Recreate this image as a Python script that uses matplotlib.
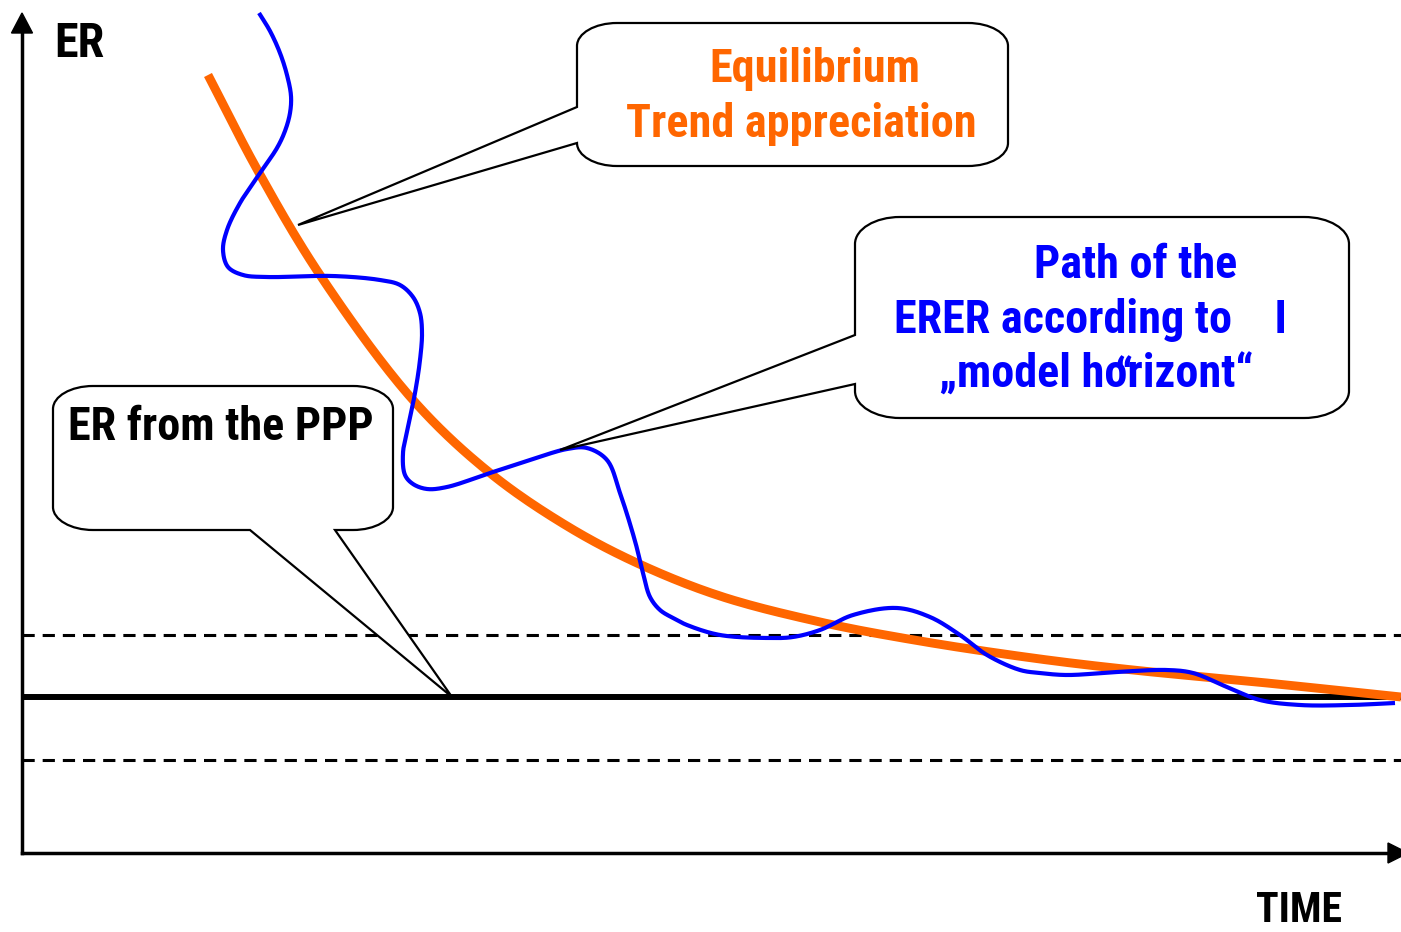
import numpy as np
import matplotlib.pyplot as plt
from matplotlib import font_manager as fm
from matplotlib.path import Path
from matplotlib.patches import PathPatch, Polygon

# path of the ERER according to the model horizon (time, ER)
erer_time = [237, 248, 258, 265, 269, 268, 263, 255, 238, 218, 205, 201, 206, 221, 245,
             311, 358, 378, 391, 398, 400, 398, 393, 386, 381, 383, 391, 405, 425, 468,
             508, 545, 565, 585, 598, 613, 621, 628, 638, 651, 665, 698, 748, 771, 798,
             831, 875, 908, 938, 965, 998, 1018, 1045, 1095, 1145, 1171, 1205, 1238, 1278,
             1328, 1373]
erer_level = [840, 822, 800, 778, 757, 740, 722, 705, 680, 650, 623, 603, 586, 578, 576,
              577, 573, 568, 556, 540, 520, 493, 460, 426, 400, 378, 369, 364, 366, 380,
              393, 404, 405, 393, 360, 312, 280, 256, 243, 235, 228, 218, 215, 216, 223,
              238, 245, 236, 218, 198, 183, 180, 178, 181, 183, 180, 166, 153, 148,
              148, 150]

# equilibrium trend appreciation
trend_time = [186, 236, 298, 391, 468, 545, 615, 698, 798, 898, 1018, 1111, 1245, 1379]
trend_level = [778, 682, 578, 453, 380, 327, 290, 257, 231, 212, 194, 183, 170, 156]

# ER from the PPP and its band
ppp_level = 156
band_upper = 218
band_lower = 93

ORANGE = '#FF6600'
BLUE = '#0000FF'

# a narrow bold sans if one is installed
FONT, STRETCH = 'Liberation Sans', 'normal'
entries = [(f.name, f.stretch) for f in fm.fontManager.ttflist]
for name in ['Liberation Sans Narrow', 'Arial Narrow', 'Roboto Condensed']:
    if any(n == name for n, s in entries):
        FONT, STRETCH = name, 'normal'
        break
else:
    if ('DejaVu Sans', 'condensed') in entries:
        FONT, STRETCH = 'DejaVu Sans', 'condensed'
FAMILY = [FONT, 'DejaVu Sans']


def smooth(xs, ys, n=20, alpha=0.5):
    # centripetal Catmull-Rom curve through the points
    p = np.column_stack([xs, ys]).astype(float)
    p = np.vstack([2 * p[0] - p[1], p, 2 * p[-1] - p[-2]])
    out = []
    for i in range(1, len(p) - 2):
        p0, p1, p2, p3 = p[i - 1], p[i], p[i + 1], p[i + 2]
        t0 = 0.0
        t1 = t0 + np.linalg.norm(p1 - p0) ** alpha
        t2 = t1 + np.linalg.norm(p2 - p1) ** alpha
        t3 = t2 + np.linalg.norm(p3 - p2) ** alpha
        t = np.linspace(t1, t2, n, endpoint=False)[:, None]
        a1 = (t1 - t) / (t1 - t0) * p0 + (t - t0) / (t1 - t0) * p1
        a2 = (t2 - t) / (t2 - t1) * p1 + (t - t1) / (t2 - t1) * p2
        a3 = (t3 - t) / (t3 - t2) * p2 + (t - t2) / (t3 - t2) * p3
        b1 = (t2 - t) / (t2 - t0) * a1 + (t - t0) / (t2 - t0) * a2
        b2 = (t3 - t) / (t3 - t1) * a2 + (t - t1) / (t3 - t1) * a3
        out.append((t2 - t) / (t2 - t1) * b1 + (t - t1) / (t2 - t1) * b2)
    out.append(p[-2][None])
    c = np.vstack(out)
    return c[:, 0], c[:, 1]


def callout(ax, x0, y0, x1, y1, rx, ry, side, tail, tip):
    k = 0.5523
    V = [(x0 + rx, y1)]
    C = [Path.MOVETO]

    def line(p):
        V.append(p)
        C.append(Path.LINETO)

    def curve(c1, c2, p):
        V.extend([c1, c2, p])
        C.extend([Path.CURVE4] * 3)

    line((x1 - rx, y1))
    curve((x1 - rx + k * rx, y1), (x1, y1 - ry + k * ry), (x1, y1 - ry))
    line((x1, y0 + ry))
    curve((x1, y0 + ry - k * ry), (x1 - rx + k * rx, y0), (x1 - rx, y0))
    if side == 'bottom':
        line((tail[1], y0))
        line(tip)
        line((tail[0], y0))
    line((x0 + rx, y0))
    curve((x0 + rx - k * rx, y0), (x0, y0 + ry - k * ry), (x0, y0 + ry))
    if side == 'left':
        line((x0, tail[0]))
        line(tip)
        line((x0, tail[1]))
    line((x0, y1 - ry))
    curve((x0, y1 - ry + k * ry), (x0 + rx - k * rx, y1), (x0 + rx, y1))
    V.append((x0 + rx, y1))
    C.append(Path.CLOSEPOLY)
    ax.add_patch(PathPatch(Path(V, C), facecolor='white', edgecolor='black',
                           lw=1.6, zorder=5, joinstyle='miter'))


fig = plt.figure(figsize=(14.01, 9.32), dpi=100)
ax = fig.add_axes([0, 0, 1, 1])
ax.set_xlim(-22, 1379)
ax.set_ylim(-79, 853)
ax.axis('off')


def size_for(text, width, base=30):
    t = fig.text(0, 0, text, fontsize=base, fontweight='bold', family=FAMILY,
                 fontstretch=STRETCH)
    w = t.get_window_extent(renderer=fig.canvas.get_renderer()).width
    t.remove()
    return base * width / w


def label(x, y, s, size, color='black'):
    ax.text(x, y, s, fontsize=size, fontweight='bold', family=FAMILY,
            fontstretch=STRETCH, color=color, zorder=7)


box_size = size_for('Trend appreciation', 350)
axis_size = size_for('ER', 50)
time_size = size_for('TIME', 86)

# band and PPP level
ax.hlines([band_upper, band_lower], 0, 1379, colors='black', lw=2.2,
          linestyles=(0, (4.0, 2.6)), zorder=1)
ax.hlines(ppp_level, 0, 1379, colors='black', lw=4.3, zorder=2)

tx, ty = smooth(trend_time, trend_level)
ax.plot(tx, ty, color=ORANGE, lw=6.4, solid_capstyle='butt', zorder=3)
bx, by = smooth(erer_time, erer_level)
ax.plot(bx, by, color=BLUE, lw=3.0, solid_capstyle='butt', zorder=4)

# axes with arrow heads
ax.plot([0, 0], [0, 822], color='black', lw=2.5, zorder=6)
ax.add_patch(Polygon([(-10.5, 820), (10.5, 820), (0, 840)], closed=True,
                     color='black', zorder=6))
ax.plot([0, 1368], [0, 0], color='black', lw=2.5, zorder=6)
ax.add_patch(Polygon([(1366, 10), (1366, -10), (1386, 0)], closed=True,
                     color='black', zorder=6))
label(32, 796, 'ER', axis_size)
label(1234, -69, 'TIME', time_size)

# callouts
callout(ax, 555, 687, 986, 830, 40, 23, 'left', (710, 746), (276, 628))
label(687, 771, 'Equilibrium', box_size, ORANGE)
label(604, 716, 'Trend appreciation', box_size, ORANGE)

callout(ax, 833, 435, 1327, 636, 45, 27, 'left', (469, 518), (538, 403))
label(1012, 575, 'Path of the', box_size, BLUE)
label(872, 520, 'ERER according to    I', box_size, BLUE)
label(917, 465, '„model horizont“', box_size, BLUE)
label(1092, 462, '“', box_size, BLUE)

callout(ax, 31, 323, 371, 467, 40, 23, 'bottom', (228, 313), (430, 156))
label(46, 413, 'ER from the PPP', box_size)

fig.savefig('out.png', dpi=100)
